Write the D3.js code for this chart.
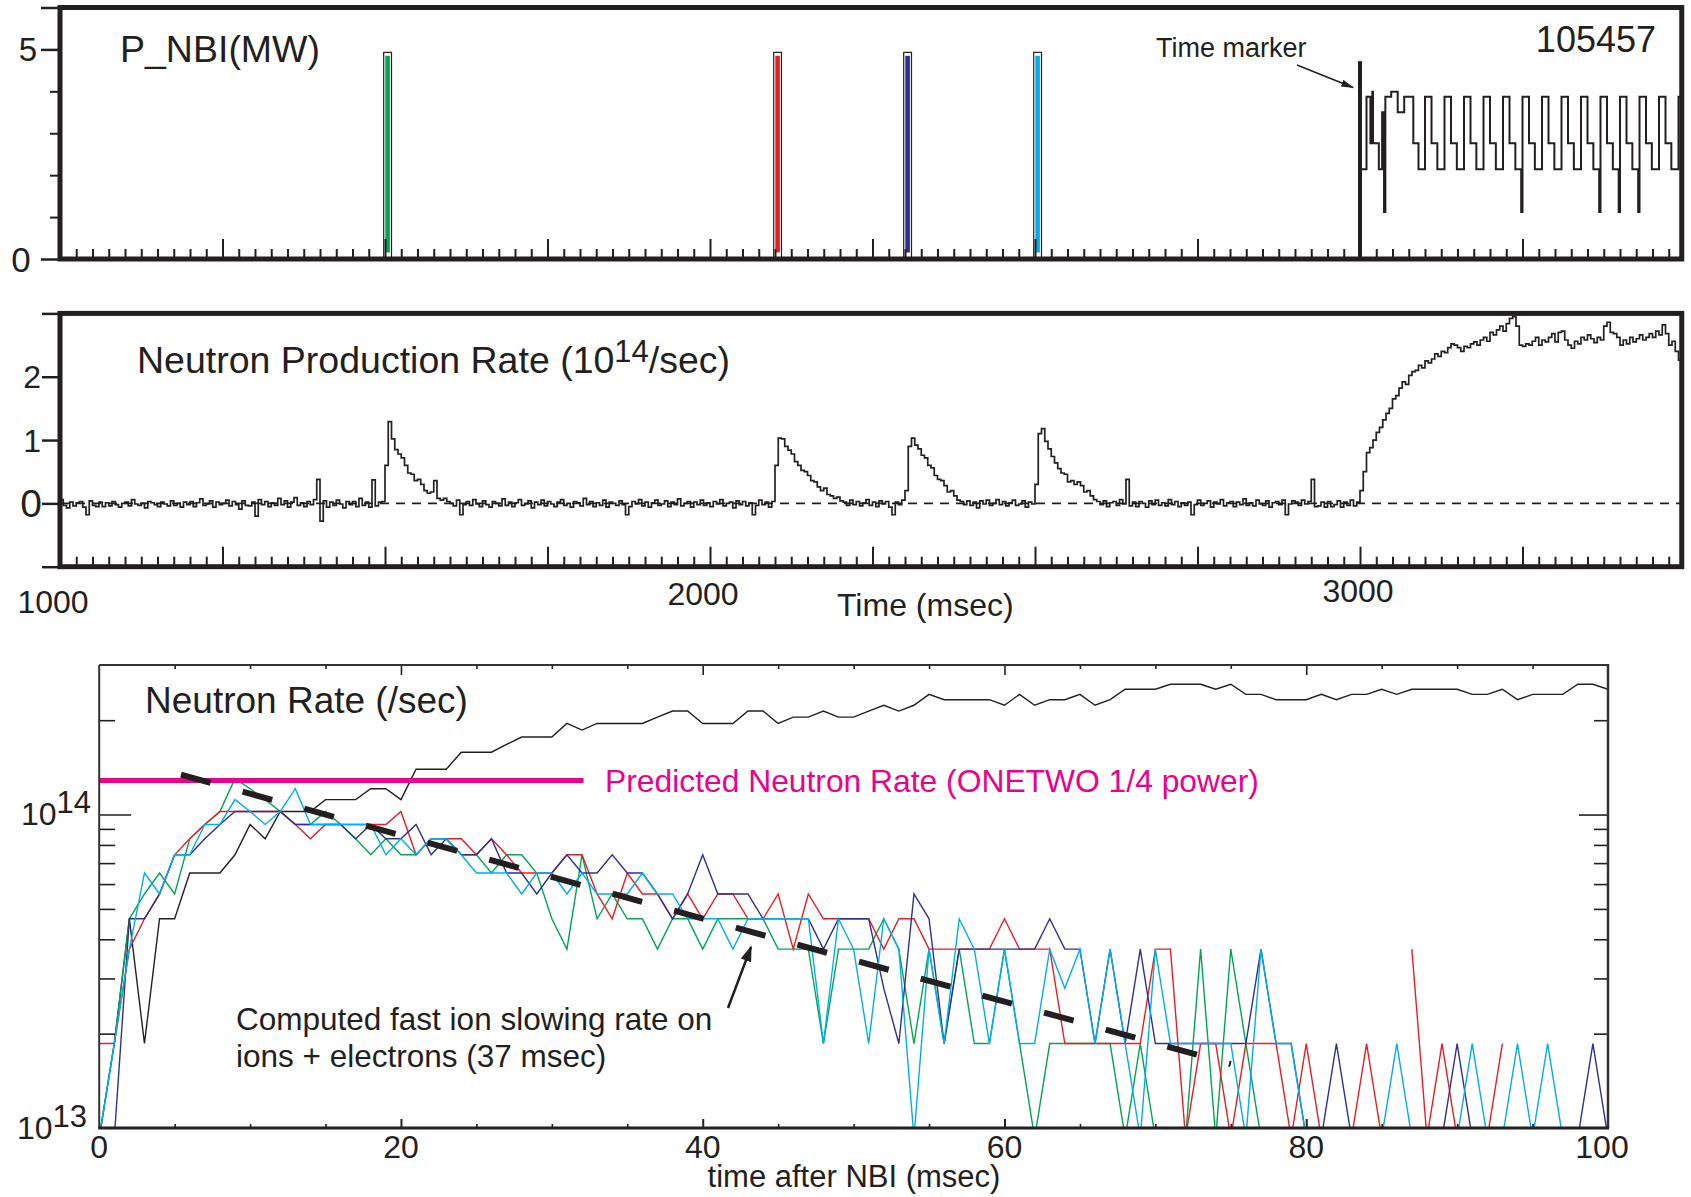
<!DOCTYPE html>
<html>
<head>
<meta charset="utf-8">
<script src="https://cdn.jsdelivr.net/npm/d3@7"></script>
<style>
  body { margin: 0; background: #fff; }
  svg { display: block; }
  text { font-family: "Liberation Sans", Arial, Helvetica, sans-serif; fill: #231f20; }
</style>
</head>
<body>
<svg id="viz" width="1691" height="1197"></svg>
<script>
// ---------------- data ----------------

// short diagnostic beam blips (start time ms), one colour each
var blipStart = [1498, 2098, 2298, 2498];
var blipColour = ["#00a651", "#ed1c24", "#2e3192", "#00aeef"];
var blipWidth = 12;      // ms
var blipPower = 4.93;    // MW

// time marker
var markerTime = 3000, markerTop = 4.72;

// P_NBI after the time marker (step after)
var pnbiTime = [3000, 3010, 3016, 3019, 3020, 3029, 3034, 3037, 3039, 3048, 3058, 3068, 3082, 3090,
  3100, 3110, 3119, 3130, 3140, 3149, 3160, 3170, 3179, 3190, 3200, 3209, 3220, 3230, 3239, 3248,
  3250, 3260, 3269, 3280, 3290, 3299, 3310, 3320, 3329, 3340, 3350, 3359, 3368,
  3370, 3380, 3389, 3398, 3400, 3410, 3419, 3428, 3430, 3440, 3449, 3460, 3470, 3479, 3490, 3495];
var pnbiMW = [2.14, 3.87, 2.76, 3.99, 2.76, 2.14, 3.5, 1.12, 3.87, 3.99, 3.5, 3.87, 2.76, 2.14,
  3.87, 2.76, 2.14, 3.87, 2.76, 2.14, 3.87, 2.76, 2.14, 3.87, 2.76, 2.14, 3.87, 2.76, 2.14, 1.12,
  3.87, 2.76, 2.14, 3.87, 2.76, 2.14, 3.87, 2.76, 2.14, 3.87, 2.76, 2.14, 1.12,
  3.87, 2.76, 2.14, 1.12, 3.87, 2.76, 2.14, 1.12, 3.87, 2.76, 2.14, 3.87, 2.76, 2.14, 3.87, 3.87];

// neutron production rate, every 5 ms from 1000 ms, in units of 0.01e14 /sec
var neutronStart = 1000, neutronStep = 5;
var neutronRate = [
  6,-3,-7,2,-4,1,3,-6,-18,4,  -3,-5,2,-5,1,-4,3,-2,-6,0,  2,-4,6,-1,-3,0,-7,3,1,-2,
  -5,2,-1,-4,4,-3,0,-6,2,-2,  3,-5,1,7,-3,-1,4,-6,2,-2,  0,5,-4,3,-2,-9,4,-3,-4,2,
  -20,6,-2,3,-5,1,-3,8,-2,4,  -6,2,9,-3,1,-5,3,-2,6,38,  -28,4,-6,2,-3,5,-1,-7,3,-2,
  3,-5,8,-3,2,-6,37,-4,2,3,  60,129,102,85,78,72,60,48,46,36,  38,30,20,16,18,36,8,5,8,3,
  0,-4,5,-18,-2,3,-3,6,-1,-5,  4,-2,-6,3,0,-4,7,-3,2,-5,  1,6,-3,-1,4,-7,2,-2,5,-4,
  3,-1,-5,2,6,-3,0,-6,3,1,  -4,8,-2,3,-5,1,-3,5,-6,2,  0,-3,4,-2,-18,-5,3,-1,6,-4,
  2,-6,1,5,-3,-1,4,-5,2,-2,  7,-4,0,3,-6,2,-2,5,-3,1,  -5,3,-1,6,-4,0,2,-7,4,-2,
  3,-4,1,-18,-3,5,-2,2,-6,3,  60,103,102,90,84,78,66,60,52,50,  44,36,34,26,20,24,14,12,8,10,
  4,2,-3,5,-2,3,-4,1,6,-3,  2,-5,4,-1,3,-6,-18,2,-2,5,  20,90,103,92,86,76,72,60,56,44,
  38,36,28,18,20,12,5,3,-2,4,  -3,2,-7,4,-1,5,-3,0,6,-2,  3,-4,1,5,-3,-1,4,-6,2,-1,
  30,110,118,98,86,74,64,55,48,46,  34,36,30,34,28,18,20,12,6,3,  -2,4,-5,1,3,-3,6,-1,38,-4,
  2,-5,3,0,-6,4,-2,5,-3,1,  -4,6,-2,3,-5,1,-3,2,-18,-2,  5,-3,0,4,-6,2,-1,6,-4,1,
  3,-5,2,-2,7,-3,1,-4,5,-1,  -3,4,-6,1,3,-2,5,-18,-1,4,  2,-3,5,-1,3,38,-5,-4,2,-6,
  3,-5,-2,4,-6,2,-3,5,-4,2,  20,50,80,88,100,112,120,132,142,150,
  165,170,182,192,188,202,208,210,218,214,  225,222,228,236,232,240,238,246,252,250,
  246,240,248,246,252,255,250,258,262,256,  270,266,274,280,272,284,292,295,280,250,
  248,252,250,256,262,250,258,255,262,268,  255,270,272,258,250,245,256,252,262,258,
  266,260,254,262,258,280,286,270,268,262,  250,258,252,262,255,260,266,258,262,268,
  262,272,266,282,268,250,256,240,226,245
];

// bottom panel: neutron counts for each ms after NBI (1 count = countUnit /sec), null = no data
var countUnit = 0.93e13;
var shotBlack = [1,2,5,2,5,5,7,7,7,8, 10,9,11,11,11,12,12,12,13,13, 12,15,15,15,17,17,17,18,19,19,
  19,21,20,21,21,21,21,22,23,23, 21,21,21,23,23,21,22,22,23,22, 22,23,24,23,24,26,25,25,25,25,
  24,26,24,25,25,26,24,25,27,27, 27,28,28,28,27,28,26,26,25,25, 25,26,25,26,26,27,26,27,27,27,
  27,26,26,27,25,26,26,26,28,28,27];
var shotGreen = [1,2,5,6,7,6,9,10,11,14, 13,12,11,10,10,11,10,9,8,9, 8,8,9,9,8,8,7,8,8,7,
  5,4,8,5,6,5,5,4,5,5, 4,5,5,5,5,4,4,4,2,4, 4,4,5,4,2,4,2,4,2,2,
  4,2,1,2,2,2,2,2,1,2, 1,1,1,4,1,4,2,1,null,null, null,null,null,null,null,null,null,null,null,null,
  null,null,null,null,null,null,null,null,null,null,null];
var shotRed = [2,2,4,5,6,8,9,10,11,11, 11,11,11,10,9,10,10,10,10,10, 11,8,9,9,9,8,9,8,7,7,
  7,8,8,6,5,7,6,6,5,6, 5,6,6,5,5,6,4,6,5,5, 5,5,4,5,5,4,4,4,4,4,
  5,4,4,4,2,2,2,2,2,2, 4,4,1,2,2,1,2,2,2,1, 2,1,1,1,2,1,null,4,1,2,
  1,1,1,2,null,null,null,null,null,null,null];
var shotNavy = [1,1,5,5,6,8,8,9,10,11, 11,11,11,10,10,10,10,9,10,9, 9,10,8,9,8,8,9,7,7,6,
  7,8,7,7,8,7,7,6,5,6, 8,6,6,6,5,5,5,5,4,5, 5,5,3,2,6,5,2,4,4,4,
  4,4,4,5,4,4,2,4,2,4, 2,2,2,2,2,2,2,4,2,2, 1,1,2,1,1,1,1,1,1,1,
  2,1,1,1,1,1,1,1,1,2,1];
var shotCyan = [1,2,4,7,6,8,8,10,10,12, 11,10,11,13,10,10,10,10,10,8, 9,8,9,9,8,7,7,7,6,7,
  7,6,7,6,6,6,7,6,6,5, 5,5,4,5,5,5,5,5,2,5, 4,2,5,4,1,4,2,5,4,2,
  4,2,2,4,3,4,2,4,2,1, 4,2,2,2,2,2,1,4,2,2, 1,1,1,1,1,1,2,1,1,1,
  1,2,1,1,2,1,2,1,1,1,1];

// predicted rate (ONETWO 1/4 power) and computed slowing-down line
var predictedRate = 1.285e14, predictedEnd = 32.1;
var slowingFit = [[5.42, 1.34e14], [75.0, 1.6e13]];

// ---------------- drawing ----------------
var ink = "#231f20";
var svg = d3.select("#viz");
var defs = svg.append("defs");

function addHead(id, len, wid) {
  defs.append("marker").attr("id", id)
    .attr("viewBox", "0 0 10 10").attr("preserveAspectRatio", "none")
    .attr("refX", 9).attr("refY", 5)
    .attr("markerWidth", len).attr("markerHeight", wid)
    .attr("markerUnits", "userSpaceOnUse").attr("orient", "auto")
    .append("path").attr("d", "M0,0L10,5L0,10z").attr("fill", ink);
}
addHead("headSmall", 13, 7);
addHead("headBig", 16, 11);

// draw ticks with a d3 axis, drop the domain path and labels
function ticks(g, axis, tx, ty, width) {
  g.append("g").attr("transform", "translate(" + tx + "," + ty + ")")
    .call(axis.tickFormat(""))
    .call(function(a) { a.select(".domain").remove(); a.selectAll("text").remove(); })
    .selectAll("line").attr("stroke", ink).attr("stroke-width", width);
}

// ===== shared time axis for the two upper panels =====
var xTime = d3.scaleLinear().domain([1000, 3500]).range([60, 1685]);
var frameEnd = 3495;
var minorTime = d3.range(1025, frameEnd, 25).filter(function(t) { return t % 250 != 0; });
var majorTime = d3.range(1250, frameEnd, 250);

// ===== panel 1: P_NBI =====
var yP = d3.scaleLinear().domain([0, 6]).range([259, 7.5]);
var p1 = svg.append("g");

p1.selectAll("rect.blipOut").data(blipStart).join("rect").attr("class", "blipOut")
  .attr("x", function(d) { return xTime(d); })
  .attr("width", function(d) { return xTime(d + blipWidth) - xTime(d); })
  .attr("y", yP(blipPower)).attr("height", yP(0) - yP(blipPower))
  .attr("fill", "#fff").attr("stroke", ink).attr("stroke-width", 1.2);
p1.selectAll("rect.blipIn").data(blipStart).join("rect").attr("class", "blipIn")
  .attr("x", function(d) { return xTime(d) + 1.6; })
  .attr("width", function(d) { return xTime(d + blipWidth) - xTime(d) - 3.2; })
  .attr("y", yP(blipPower) + 3.5).attr("height", yP(0) - yP(blipPower) - 10)
  .attr("fill", function(d, i) { return blipColour[i]; });

var pnbiLine = d3.line()
  .x(function(d, i) { return xTime(pnbiTime[i]); })
  .y(function(d) { return yP(d); })
  .curve(d3.curveStepAfter);
p1.append("path").datum(pnbiMW).attr("d", pnbiLine)
  .attr("fill", "none").attr("stroke", ink).attr("stroke-width", 2);

p1.append("line").attr("x1", xTime(markerTime)).attr("x2", xTime(markerTime))
  .attr("y1", yP(0)).attr("y2", yP(markerTop)).attr("stroke", ink).attr("stroke-width", 4);

ticks(p1, d3.axisBottom(xTime).tickValues(minorTime).tickSize(-10), 0, yP(0), 2);
ticks(p1, d3.axisBottom(xTime).tickValues(majorTime).tickSize(-20), 0, yP(0), 2);
ticks(p1, d3.axisLeft(yP).tickValues([1, 2, 3, 4]).tickSize(10), xTime(1000), 0, 2);
ticks(p1, d3.axisLeft(yP).tickValues([0, 5, 6]).tickSize(19), xTime(1000), 0, 2.5);

p1.append("rect").attr("x", xTime(1000)).attr("y", yP(6))
  .attr("width", xTime(frameEnd) - xTime(1000)).attr("height", yP(0) - yP(6))
  .attr("fill", "none").attr("stroke", ink).attr("stroke-width", 5);

p1.append("text").attr("x", 28).attr("y", yP(5) + 12).attr("text-anchor", "middle")
  .style("font-size", "33px").text("5");
p1.append("text").attr("x", 21).attr("y", yP(0) + 12.5).attr("text-anchor", "middle")
  .style("font-size", "35px").text("0");
p1.append("text").attr("x", 120).attr("y", 62).style("font-size", "37.5px").text("P_NBI(MW)");
p1.append("text").attr("x", 1656).attr("y", 52).attr("text-anchor", "end")
  .style("font-size", "36px").text("105457");
p1.append("text").attr("x", 1156).attr("y", 57).style("font-size", "27px").text("Time marker");
p1.append("line").attr("x1", 1297).attr("y1", 65).attr("x2", 1353).attr("y2", 87.5)
  .attr("stroke", ink).attr("stroke-width", 1.5).attr("marker-end", "url(#headSmall)");

// ===== panel 2: neutron production rate =====
var yN = d3.scaleLinear().domain([-1, 3]).range([566.7, 313.4]);
var p2 = svg.append("g");

p2.append("line").attr("x1", xTime(1000)).attr("x2", xTime(frameEnd))
  .attr("y1", yN(0)).attr("y2", yN(0))
  .attr("stroke", ink).attr("stroke-width", 1.6).attr("stroke-dasharray", "9,7");

var neutronLine = d3.line()
  .x(function(d, i) { return xTime(neutronStart + i * neutronStep); })
  .y(function(d) { return yN(d / 100); })
  .curve(d3.curveStepAfter);
p2.append("path").datum(neutronRate).attr("d", neutronLine)
  .attr("fill", "none").attr("stroke", ink).attr("stroke-width", 1.7);

ticks(p2, d3.axisBottom(xTime).tickValues(minorTime).tickSize(-10), 0, yN(-1), 2);
ticks(p2, d3.axisBottom(xTime).tickValues(majorTime).tickSize(-20), 0, yN(-1), 2);
ticks(p2, d3.axisLeft(yN).tickValues([-1, 0, 1, 2, 3]).tickSize(18), xTime(1000), 0, 2.5);

p2.append("rect").attr("x", xTime(1000)).attr("y", yN(3))
  .attr("width", xTime(frameEnd) - xTime(1000)).attr("height", yN(-1) - yN(3))
  .attr("fill", "none").attr("stroke", ink).attr("stroke-width", 5);

p2.append("text").attr("x", 41).attr("y", yN(2) + 11.5).attr("text-anchor", "end")
  .style("font-size", "32px").text("2");
p2.append("text").attr("x", 41).attr("y", yN(1) + 11.5).attr("text-anchor", "end")
  .style("font-size", "32px").text("1");
p2.append("text").attr("x", 42).attr("y", yN(0) + 14).attr("text-anchor", "end")
  .style("font-size", "39px").text("0");

var t2 = p2.append("text").attr("x", 137).attr("y", 373).style("font-size", "37.5px");
t2.append("tspan").text("Neutron Production Rate (10");
t2.append("tspan").attr("dy", -11).style("font-size", "31px").text("14");
t2.append("tspan").attr("dy", 11).text("/sec)");

p2.append("text").attr("x", 53).attr("y", 613).attr("text-anchor", "middle")
  .style("font-size", "32px").text("1000");
p2.append("text").attr("x", 703).attr("y", 605).attr("text-anchor", "middle")
  .style("font-size", "32px").text("2000");
p2.append("text").attr("x", 1358).attr("y", 602).attr("text-anchor", "middle")
  .style("font-size", "32px").text("3000");
p2.append("text").attr("x", 837).attr("y", 616).style("font-size", "32px").text("Time (msec)");

// ===== panel 3: neutron rate after NBI (log) =====
var xA = d3.scaleLinear().domain([0, 100]).range([99.2, 1608]);
var yA = d3.scaleLog().domain([1e13, 3e14]).range([1128, 665]);
var p3 = svg.append("g");

defs.append("clipPath").attr("id", "plotClip").append("rect")
  .attr("x", xA(0)).attr("y", yA(3e14)).attr("width", xA(100) - xA(0)).attr("height", yA(1e13) - yA(3e14));

var countLine = d3.line()
  .defined(function(d) { return d != null; })
  .x(function(d, i) { return xA(i); })
  .y(function(d) { return yA(d * countUnit); });

var series = [
  { values: shotBlack, colour: "#231f20" },
  { values: shotGreen, colour: "#00a651" },
  { values: shotRed,   colour: "#ed1c24" },
  { values: shotNavy,  colour: "#2e3192" },
  { values: shotCyan,  colour: "#00aeef" }
];
var plot = p3.append("g").attr("clip-path", "url(#plotClip)");
plot.selectAll("path.shot").data(series).join("path").attr("class", "shot")
  .attr("d", function(s) { return countLine(s.values); })
  .attr("fill", "none").attr("stroke", function(s) { return s.colour; })
  .attr("stroke-width", 1.4).attr("stroke-linejoin", "miter");

p3.append("line").attr("x1", xA(0)).attr("x2", xA(predictedEnd))
  .attr("y1", yA(predictedRate)).attr("y2", yA(predictedRate))
  .attr("stroke", "#ec008c").attr("stroke-width", 5);

p3.append("line")
  .attr("x1", xA(slowingFit[0][0])).attr("y1", yA(slowingFit[0][1]))
  .attr("x2", xA(slowingFit[1][0])).attr("y2", yA(slowingFit[1][1]))
  .attr("pathLength", 1703).attr("stroke-dasharray", "48,52")
  .attr("stroke", ink).attr("stroke-width", 6);

var minorCount = [2e13, 3e13, 4e13, 5e13, 6e13, 7e13, 8e13, 9e13, 2e14];
var minorA = d3.range(5, 100, 5).filter(function(t) { return t % 20 != 0; });
var majorA = [20, 40, 60, 80];
ticks(p3, d3.axisLeft(yA).tickValues(minorCount).tickSize(-16), xA(0), 0, 1.6);
ticks(p3, d3.axisLeft(yA).tickValues([1e14]).tickSize(-32), xA(0), 0, 1.6);
ticks(p3, d3.axisRight(yA).tickValues(minorCount).tickSize(-14), xA(100), 0, 1.6);
ticks(p3, d3.axisRight(yA).tickValues([1e14]).tickSize(-29), xA(100), 0, 1.6);
ticks(p3, d3.axisBottom(xA).tickValues(minorA).tickSize(-4), 0, yA(1e13), 1.6);
ticks(p3, d3.axisBottom(xA).tickValues(majorA).tickSize(-9), 0, yA(1e13), 2);
ticks(p3, d3.axisTop(xA).tickValues(minorA).tickSize(-4), 0, yA(3e14), 1.6);
ticks(p3, d3.axisTop(xA).tickValues(majorA).tickSize(-10), 0, yA(3e14), 1.6);

// frame: thin top/left/right, heavier bottom
p3.append("line").attr("x1", xA(0)).attr("x2", xA(100)).attr("y1", yA(3e14)).attr("y2", yA(3e14))
  .attr("stroke", "#333").attr("stroke-width", 2);
p3.append("line").attr("x1", xA(0)).attr("x2", xA(0)).attr("y1", yA(3e14)).attr("y2", yA(1e13))
  .attr("stroke", "#333").attr("stroke-width", 2);
p3.append("line").attr("x1", xA(100)).attr("x2", xA(100)).attr("y1", yA(3e14) - 1).attr("y2", yA(1e13))
  .attr("stroke", "#333").attr("stroke-width", 2.5);
p3.append("line").attr("x1", xA(0) - 1).attr("x2", xA(100) + 1).attr("y1", yA(1e13)).attr("y2", yA(1e13))
  .attr("stroke", ink).attr("stroke-width", 3);

// tick labels
[0, 20, 40, 60, 80, 100].forEach(function(t) {
  p3.append("text").attr("x", xA(t) - (t == 100 ? 6 : 0)).attr("y", 1158)
    .attr("text-anchor", "middle").style("font-size", "32px").text(t);
});
p3.append("text").attr("x", 854).attr("y", 1187).attr("text-anchor", "middle")
  .style("font-size", "31px").text("time after NBI (msec)");

function powerLabel(x, y, exp) {
  var t = p3.append("text").attr("x", x).attr("y", y).style("font-size", "32px");
  t.append("tspan").text("10");
  t.append("tspan").attr("dy", -12).style("font-size", "31px").text(exp);
}
powerLabel(21, yA(1e14) + 10, "14");
powerLabel(17, yA(1e13) + 11, "13");

p3.append("text").attr("x", 145).attr("y", 713).style("font-size", "37px").text("Neutron Rate (/sec)");
p3.append("text").attr("x", 605).attr("y", 792).style("font-size", "31.8px").style("fill", "#ec008c")
  .text("Predicted Neutron Rate (ONETWO 1/4 power)");

p3.append("text").attr("x", 236).attr("y", 1030).style("font-size", "31.5px")
  .text("Computed fast ion slowing rate on");
p3.append("text").attr("x", 236).attr("y", 1067).style("font-size", "31.5px")
  .text("ions + electrons (37 msec)");
p3.append("line").attr("x1", 728).attr("y1", 1008).attr("x2", 751).attr("y2", 947)
  .attr("stroke", ink).attr("stroke-width", 2.5).attr("marker-end", "url(#headBig)");
</script>
</body>
</html>
